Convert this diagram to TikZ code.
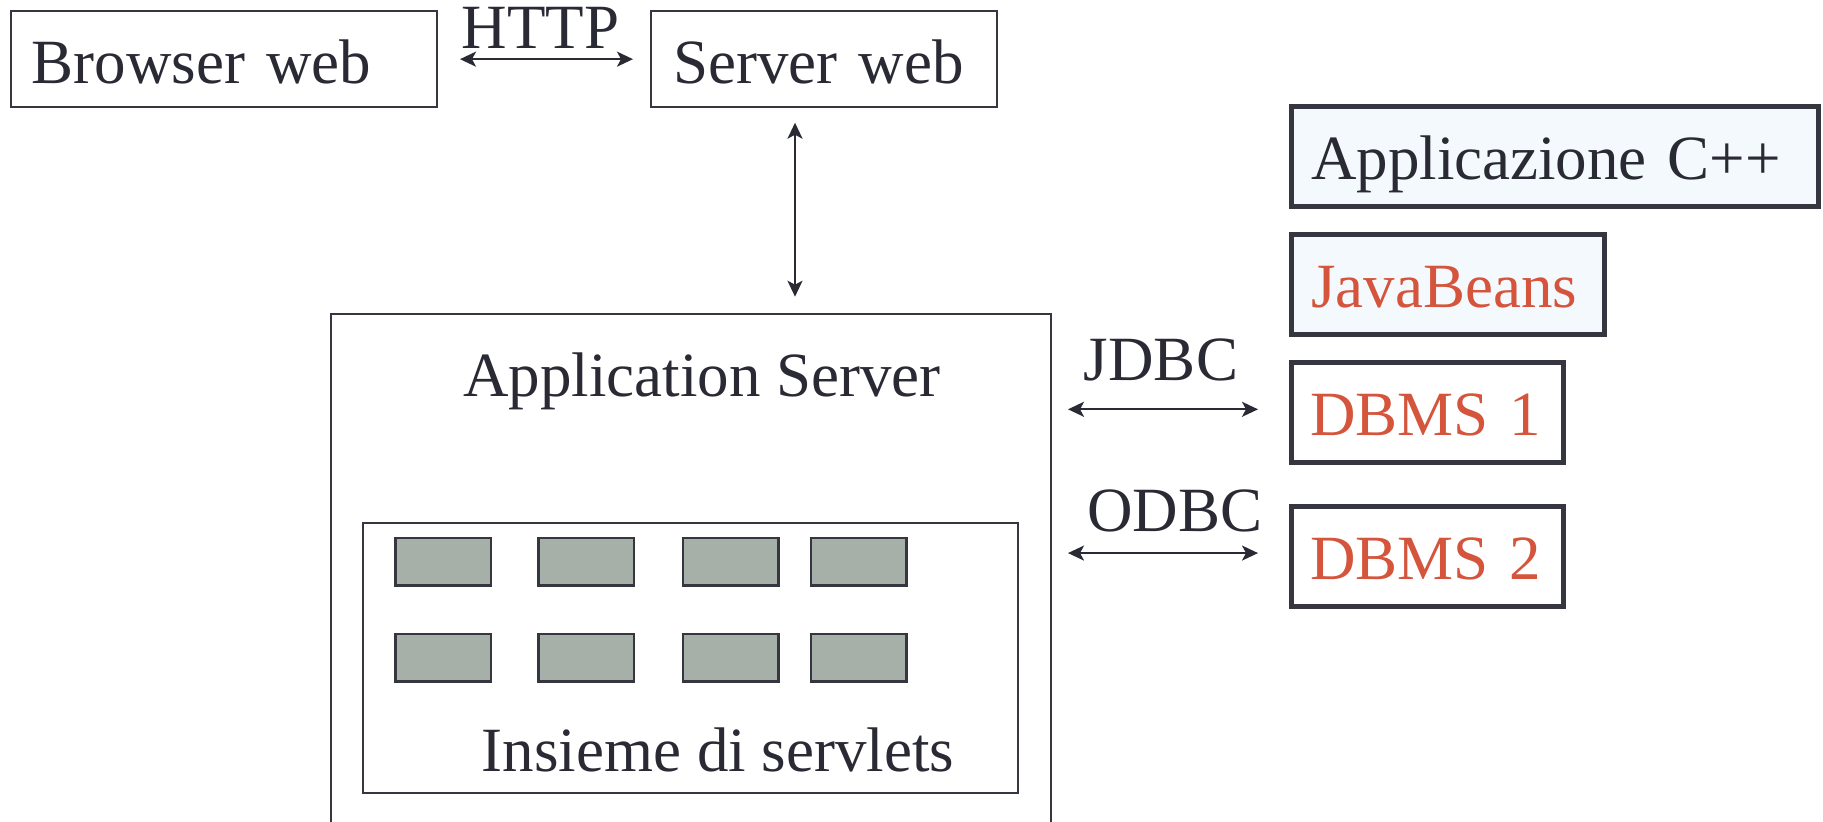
\documentclass[tikz,border=0pt]{standalone}
\usepackage{fontspec}
\setmainfont{Liberation Serif}
\usetikzlibrary{arrows.meta}
\definecolor{ink}{HTML}{2A2A35}
\definecolor{edge}{HTML}{363641}
\definecolor{rust}{HTML}{D4543C}
\definecolor{pale}{HTML}{F4F9FD}
\definecolor{slot}{HTML}{A6AFA8}
\begin{document}
\begin{tikzpicture}[x=0.5pt, y=-0.5pt,
  every node/.style={outer sep=0pt, inner sep=0pt, font=\fontsize{31.5}{36}\selectfont, text=ink},
  box/.style={draw=edge, line width=1pt, fill=white, align=left, text height=29.2pt, text depth=5pt},
  heavy/.style={box, line width=2.5pt, text height=28pt, text depth=5pt},
  plainbox/.style={draw=edge, line width=1pt},
  slotbox/.style={draw=edge, line width=1.3pt, fill=slot, minimum width=47.75pt, minimum height=23.75pt},
  conn/.style={draw=ink, line width=1.1pt,
    {Stealth[length=8pt,width=7.5pt,inset=2pt]}-{Stealth[length=8pt,width=7.5pt,inset=2pt]}},
  tag/.style={anchor=base}
]
\useasboundingbox (0,0) rectangle (1823,821);

% top row: browser and web server
\node[box, minimum width=213.15pt, minimum height=48.15pt, text width=192.45pt]
  (browser) at (224.15,59.15) {Browser web};
\node[box, minimum width=173.15pt, minimum height=48.15pt, text width=150.85pt]
  (server) at (824.15,59.15) {Server web};
\node[tag] (http) at (540.5,48.3) {HTTP};

% application server (runs off the lower edge)
\begin{scope}
  \clip (0,0) rectangle (1823,821);
  \node[plainbox, minimum width=359.75pt, minimum height=293.25pt] (appsrv) at (690.75,606.75) {};
\end{scope}
\node[tag] (appname) at (702,396.7) {Application Server};

% servlet container
\node[plainbox, minimum width=327.5pt, minimum height=135.15pt] (servlets) at (690.5,657.85) {};
\foreach \i/\x in {1/443.1, 2/586.4, 3/730.7, 4/858.75} {
  \node[slotbox] (sa\i) at (\x,561.65) {};
  \node[slotbox] (sb\i) at (\x,657.8) {};
}
\node[tag] (setname) at (718,771.7) {Insieme di servlets};

% right column
\node[heavy, fill=pale, minimum width=263.75pt, minimum height=50pt, text width=243.75pt]
  (cpp) at (1554.75,156) {Applicazione C++};
\node[heavy, fill=pale, minimum width=156.75pt, minimum height=50.25pt, text width=136.4pt, text=rust]
  (beans) at (1447.75,284.25) {JavaBeans};
\node[heavy, minimum width=136.25pt, minimum height=50pt, text width=116.95pt, text=rust]
  (dbms1) at (1427.25,412.5) {DBMS 1};
\node[heavy, minimum width=136.25pt, minimum height=50.25pt, text width=116.95pt, text=rust]
  (dbms2) at (1427.25,556.25) {DBMS 2};

% connectors
\draw[conn, shorten <=11.35pt, shorten >=9pt] (browser) -- (server);
\coordinate (vx) at (795,0);
\draw[conn, shorten <=7.7pt, shorten >=8.4pt] (server.south -| vx) -- (appsrv.north -| vx);
\coordinate (jd) at ([yshift=1.6pt]dbms1.west);
\coordinate (od) at ([yshift=1.6pt]dbms2.west);
\draw[conn, shorten <=8.75pt, shorten >=16.5pt] (appsrv.east |- jd) -- (jd);
\draw[conn, shorten <=8.75pt, shorten >=16.5pt] (appsrv.east |- od) -- (od);
\node[tag] (jdbc) at (1161,380) {JDBC};
\node[tag] (odbc) at (1175,531.7) {ODBC};
\end{tikzpicture}
\end{document}
